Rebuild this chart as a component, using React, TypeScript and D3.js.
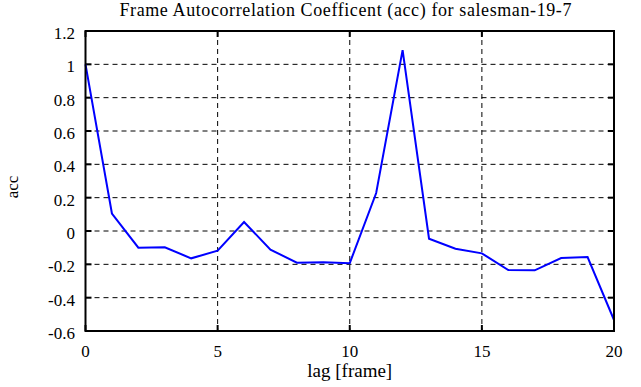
import React from "react";
import * as d3 from "d3";

const lags: number[] = [0, 1, 2, 3, 4, 5, 6, 7, 8, 9, 10, 11, 12, 13, 14, 15, 16, 17, 18, 19, 20];
const accValues: number[] = [1.0, 0.105, -0.1, -0.098, -0.164, -0.118, 0.054, -0.112, -0.19, -0.188, -0.193, 0.228, 1.085, -0.046, -0.106, -0.134, -0.234, -0.236, -0.162, -0.156, -0.534];
const xTicks: number[] = [0, 5, 10, 15, 20];
const yTicks: number[] = [-0.6, -0.4, -0.2, 0, 0.2, 0.4, 0.6, 0.8, 1, 1.2];
const titleText = "Frame Autocorrelation Coefficent (acc) for salesman-19-7";
const xLabelText = "lag [frame]";
const yLabelText = "acc";

const W = 641;
const H = 387;
const L = 85.5;
const R = 614;
const T = 31;
const B = 331;
const FONT = "'Liberation Serif', 'DejaVu Serif', serif";

export default function App() {
  const x = d3.scaleLinear().domain([0, 20]).range([L, R]);
  const y = d3.scaleLinear().domain([-0.6, 1.2]).range([B, T]);
  const line = d3
    .line<number>()
    .x((_, i) => x(lags[i]))
    .y((d) => y(d));
  const fmt = (v: number) => {
    const r = Math.round(v * 10) / 10;
    return r === 0 ? "0" : String(r);
  };
  const ts = { fontFamily: FONT };
  return (
    <svg
      width={W}
      height={H}
      style={{ position: "absolute", left: 0, top: 0, background: "#fff" }}
    >
      <rect x={0} y={0} width={W} height={H} fill="#fff" />
      {xTicks
        .filter((t) => t > 0 && t < 20)
        .map((t) => (
          <line key={"gx" + t} x1={x(t)} x2={x(t)} y1={T} y2={B} stroke="#000" strokeWidth={1} strokeDasharray="5,4" />
        ))}
      {yTicks
        .filter((t) => t > -0.6 && t < 1.2)
        .map((t) => (
          <line key={"gy" + t} x1={L} x2={R} y1={y(t)} y2={y(t)} stroke="#000" strokeWidth={1} strokeDasharray="5,4" />
        ))}
      {xTicks.map((t) => (
        <g key={"tx" + t}>
          <line x1={x(t)} x2={x(t)} y1={B} y2={B - 6} stroke="#000" strokeWidth={2} />
          <line x1={x(t)} x2={x(t)} y1={T} y2={T + 6} stroke="#000" strokeWidth={2} />
          <text x={x(t)} y={B + 26} textAnchor="middle" fontSize={17} style={ts}>
            {fmt(t)}
          </text>
        </g>
      ))}
      {yTicks.map((t) => (
        <g key={"ty" + t}>
          <line x1={L} x2={L + 6} y1={y(t)} y2={y(t)} stroke="#000" strokeWidth={2} />
          <line x1={R} x2={R - 6} y1={y(t)} y2={y(t)} stroke="#000" strokeWidth={2} />
          <text x={75} y={y(t) + 8} textAnchor="end" fontSize={17} style={ts}>
            {fmt(t)}
          </text>
        </g>
      ))}
      <path d={line(accValues) || ""} fill="none" stroke="#0000ff" strokeWidth={2} strokeLinejoin="miter" />
      <rect x={L} y={T} width={R - L} height={B - T} fill="none" stroke="#000" strokeWidth={2} />
      <text x={(L + R) / 2 - 4} y={16} textAnchor="middle" fontSize={18} letterSpacing={0.6} style={ts}>
        {titleText}
      </text>
      <text x={(L + R) / 2} y={377} textAnchor="middle" fontSize={19} style={ts}>
        {xLabelText}
      </text>
      <text
        transform={`translate(18, ${(T + B) / 2 + 6}) rotate(-90)`}
        textAnchor="middle"
        fontSize={17}
        style={ts}
      >
        {yLabelText}
      </text>
    </svg>
  );
}
